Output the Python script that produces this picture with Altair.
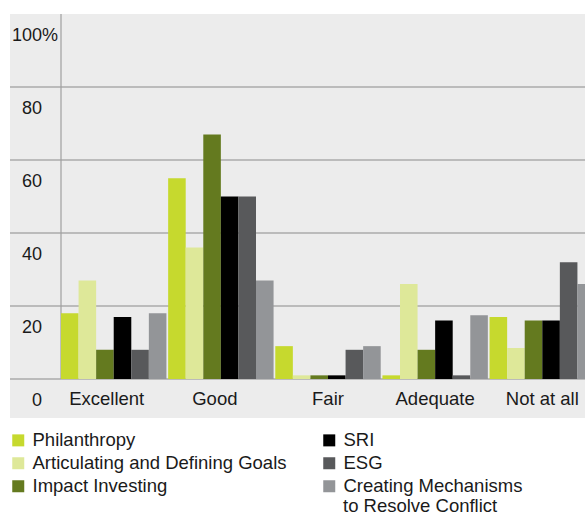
import altair as alt
import pandas as pd

categories = ["Excellent", "Good", "Fair", "Adequate", "Not at all"]
series = ["Philanthropy", "Articulating and Defining Goals", "Impact Investing",
          "SRI", "ESG", "Creating Mechanisms to Resolve Conflict"]
colors = ["#c6d92e", "#dee899", "#647a1f", "#000000", "#58595b", "#939598"]

philanthropy = [18, 55, 9, 1, 17]
articulating = [27, 36, 1, 26, 8.5]
impact = [8, 67, 1, 8, 16]
sri = [17, 50, 1, 16, 16]
esg = [8, 50, 8, 1, 32]
creating = [18, 27, 9, 17.5, 26]

tick_values = [0, 20, 40, 60, 80, 100]
tick_labels = ["0", "20", "40", "60", "80", "100"]
grid_values = [0, 20, 40, 60, 80]

values_by_series = [philanthropy, articulating, impact, sri, esg, creating]
rows = []
for s, vals in zip(series, values_by_series):
    for c, v in zip(categories, vals):
        rows.append({"category": c, "series": s, "value": v})
df = pd.DataFrame(rows)

W, H = 524, 365
FONT = "Liberation Sans"
TXT = "#1a1a1a"

yscale = alt.Scale(domain=[0, 100], nice=False, zero=True)

bg = alt.Chart(pd.DataFrame({"a": [0]})).mark_rect(color="#ececec").encode(
    x=alt.value(-51), x2=alt.value(W), y=alt.value(0), y2=alt.value(404)
)

grid = alt.Chart(pd.DataFrame({"v": grid_values})).mark_rule(
    color="#ababab", strokeWidth=1.5
).encode(
    y=alt.Y("v:Q", scale=yscale, axis=None),
    x=alt.value(-51), x2=alt.value(W),
)

vline = alt.Chart(pd.DataFrame({"a": [0]})).mark_rule(
    color="#a0a0a0", strokeWidth=1.2
).encode(x=alt.value(0), y=alt.value(0), y2=alt.value(H))

bars = alt.Chart(df).mark_bar(clip=True).encode(
    x=alt.X("category:N", sort=categories,
            scale=alt.Scale(range=[0, 534], paddingInner=0.016, paddingOuter=0),
            axis=alt.Axis(title=None, domain=False, ticks=False, grid=False,
                          labelAngle=0, labelFontSize=18.5, labelColor=TXT,
                          labelFont=FONT, labelPadding=19, labelBaseline="middle",
                          labelOffset={"expr": "datum.value == 'Excellent' ? -7 : (datum.value == 'Good' ? -6 : 0)"},
                          zindex=2)),
    xOffset=alt.XOffset("series:N", sort=series,
                        scale=alt.Scale(paddingInner=0, paddingOuter=0)),
    y=alt.Y("value:Q", scale=yscale, axis=None),
    color=alt.Color("series:N",
                    scale=alt.Scale(domain=series, range=colors),
                    legend=alt.Legend(
                        title=None, orient="none", legendX=-52, legendY=417,
                        columns=2, columnPadding=33, rowPadding=4,
                        symbolType="square", symbolSize=144, symbolStrokeWidth=0,
                        symbolOpacity=1,
                        labelFontSize=18.5, labelFont=FONT, labelColor=TXT,
                        labelOffset=5, labelLimit=0, padding=0,
                        labelExpr="datum.label == 'Creating Mechanisms to Resolve Conflict' ? 'Creating Mechanisms' : datum.label",
                    )),
)

ylabels = alt.Chart(pd.DataFrame({"v": tick_values, "t": tick_labels})).mark_text(
    align="right", baseline="middle", dy=21.5, fontSize=18, font=FONT, color=TXT
).encode(
    y=alt.Y("v:Q", scale=yscale, axis=None), x=alt.value(-19), text="t:N"
)

pct = alt.Chart(pd.DataFrame({"v": [100], "t": ["%"]})).mark_text(
    align="left", baseline="middle", dy=21.5, fontSize=18, font=FONT, color=TXT
).encode(
    y=alt.Y("v:Q", scale=yscale, axis=None), x=alt.value(-19), text="t:N"
)

second_line = alt.Chart(pd.DataFrame({"t": ["to Resolve Conflict"]})).mark_text(
    align="left", baseline="middle", fontSize=18.5, font=FONT, color=TXT
).encode(x=alt.value(282), y=alt.value(491.5), text="t:N")

chart = alt.layer(bg, grid, vline, bars, ylabels, pct, second_line).properties(
    width=W, height=H,
    autosize=alt.AutoSizeParams(type="none"),
    padding={"left": 61, "top": 14, "right": 0, "bottom": 136},
    background="white",
).configure_view(stroke=None).configure(font=FONT)

chart.save("out.html", embed_options={"renderer": "svg", "actions": False})
